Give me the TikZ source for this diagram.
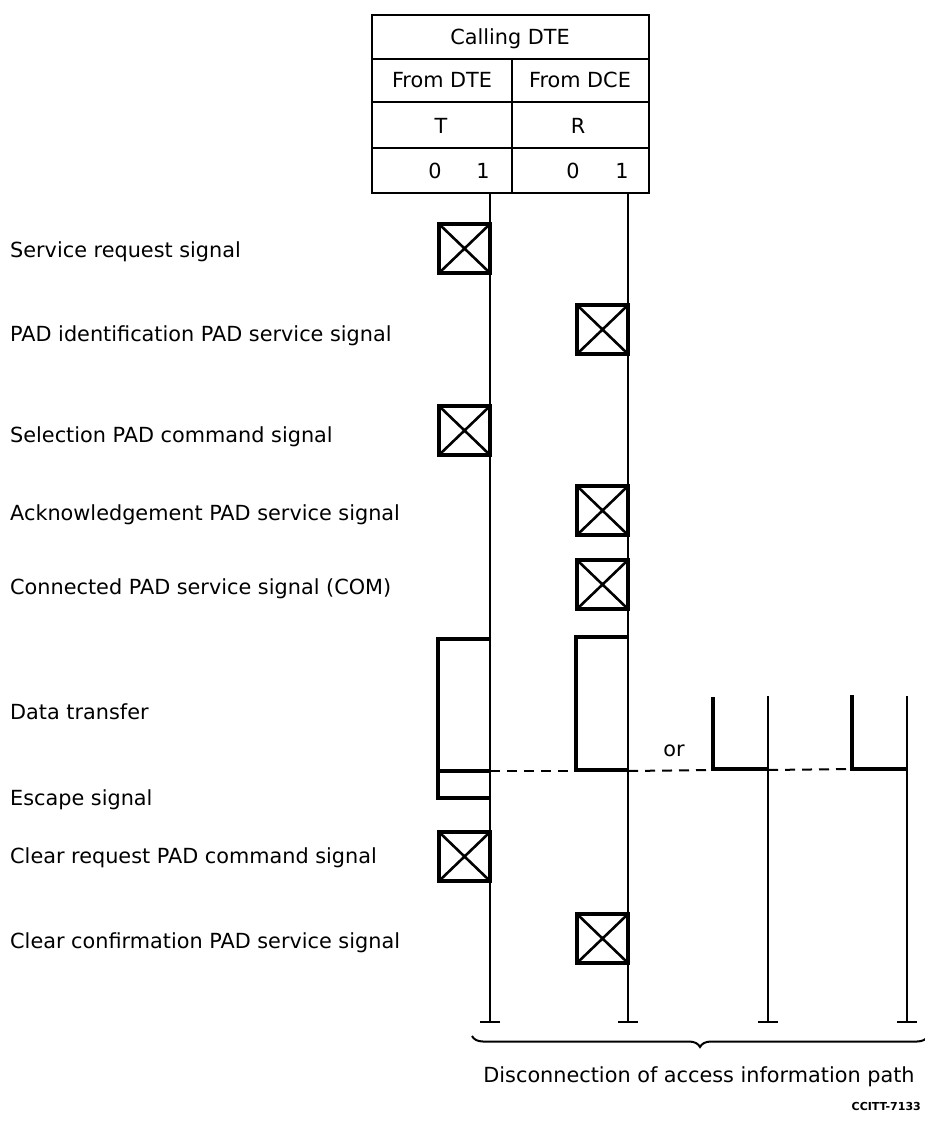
\documentclass[tikz,border=0pt]{standalone}
\usepackage{fontspec}
\setmainfont{DejaVu Sans}
\usetikzlibrary{decorations.pathreplacing}
\begin{document}
\begin{tikzpicture}[x=1pt,y=-1pt,
  txt/.style={inner sep=0pt, font=\fontsize{20.8}{24}\selectfont},
  lbl/.style={txt, anchor=base west},
  hdr/.style={txt, anchor=base},
  tline/.style={line width=2.2pt},
  tbl/.style={line width=2.4pt},
  thick box/.style={line width=3.6pt},
  dashline/.style={line width=2pt, dash pattern=on 10pt off 7pt},
  sig/.style={draw, line width=3.6pt, minimum width=51pt, minimum height=49pt,
    inner sep=0pt, outer sep=0pt, anchor=north east,
    path picture={\draw[line width=2.6pt]
      (path picture bounding box.north west) -- (path picture bounding box.south east)
      (path picture bounding box.north east) -- (path picture bounding box.south west);}},
  capline/.style={line width=2.2pt}
]
\useasboundingbox (0,0) rectangle (924,1124);

% ---- header table ----
\draw[tbl] (372,15) rectangle (649,193);
\draw[tbl] (372,59) -- (649,59);
\draw[tbl] (372,102) -- (649,102);
\draw[tbl] (372,148) -- (649,148);
\draw[tbl] (512,59) -- (512,193);
\node[hdr] (calling) at (510,45) {Calling DTE};
\node[hdr] (fromdte) at (442,88) {From DTE};
\node[hdr] (fromdce) at (580,88) {From DCE};
\node[hdr] (tsym) at (441,133) {T};
\node[hdr] (rsym) at (578,133) {R};
\node[hdr] (t0) at (435,178) {0};
\node[hdr] (t1) at (483,178) {1};
\node[hdr] (r0) at (573,178) {0};
\node[hdr] (r1) at (622,178) {1};

% ---- time lines ----
\coordinate (Ttop) at (490,193);
\coordinate (Tbot) at (490,1022);
\coordinate (Rtop) at (628,193);
\coordinate (Rbot) at (628,1022);
\coordinate (Atop) at (768,696);
\coordinate (Abot) at (768,1022);
\coordinate (Btop) at (907,696);
\coordinate (Bbot) at (907,1022);
\draw[tline] (Ttop) -- (Tbot);
\draw[tline] (Rtop) -- (Rbot);
\draw[tline] (Atop) -- (Abot);
\draw[tline] (Btop) -- (Bbot);
\foreach \c in {Tbot,Rbot,Abot,Bbot}
  \draw[capline] ([xshift=-10pt]\c) -- ([xshift=10pt]\c);

% ---- signal boxes ----
\node[sig] (s1) at (490,224) {};
\node[sig] (s2) at (628,305) {};
\node[sig] (s3) at (490,406) {};
\node[sig] (s4) at (628,486) {};
\node[sig] (s5) at (628,560) {};
\node[sig] (s6) at (490,832) {};
\node[sig] (s7) at (628,914) {};

% ---- data transfer / escape ----
\draw[thick box] (490,639) -- (438,639) -- (438,771) -- (490,771);
\draw[thick box] (438,771) -- (438,798) -- (490,798);
\draw[thick box] (628,637) -- (576,637) -- (576,770) -- (628,770);
\draw[thick box] (713,697) -- (713,769) -- (768,769);
\draw[thick box] (852,695) -- (852,769) -- (907,769);
\draw[dashline] (490,771) -- (576,771);
\draw[dashline] (628,771) -- (713,770);
\draw[dashline] (768,770) -- (852,769);
\node[hdr] (or) at (674,756) {or};

% ---- labels ----
\node[lbl] (l1) at (10,257) {Service request signal};
\node[lbl] (l2) at (10,341) {PAD identification PAD service signal};
\node[lbl] (l3) at (10,442) {Selection PAD command signal};
\node[lbl] (l4) at (10,520) {Acknowledgement PAD service signal};
\node[lbl] (l5) at (10,594) {Connected PAD service signal (COM)};
\node[lbl] (l6) at (10,719) {Data transfer};
\node[lbl] (l7) at (10,805) {Escape signal};
\node[lbl] (l8) at (10,863) {Clear request PAD command signal};
\node[lbl] (l9) at (10,948) {Clear confirmation PAD service signal};

% ---- brace ----
\coordinate (brL) at (472,1036);
\coordinate (brR) at (928,1036);
\draw[line width=2pt, decorate, decoration={brace, mirror, amplitude=11pt}] (brL) -- (brR);
\node[hdr] (disc) at (699,1082) {Disconnection of access information path};
\node[inner sep=0pt, anchor=base east, font=\fontsize{11}{12}\selectfont\bfseries] (ref) at (921,1110) {CCITT-7133};
\end{tikzpicture}
\end{document}
